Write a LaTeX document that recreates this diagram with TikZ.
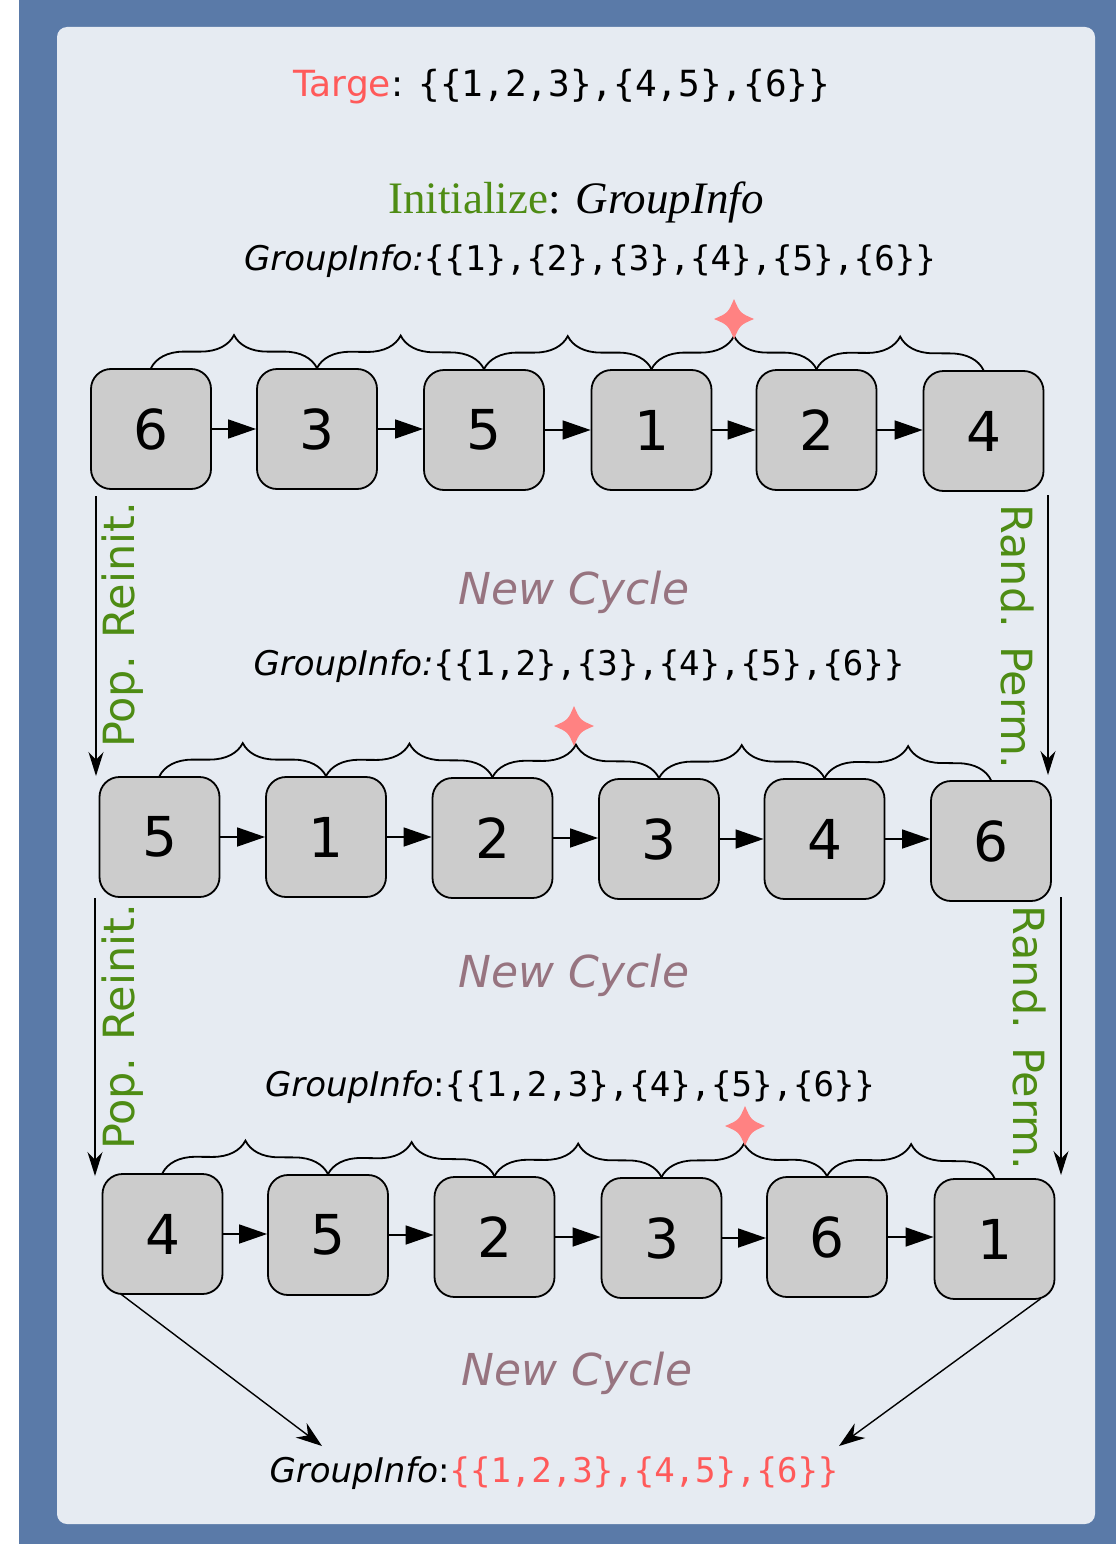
\documentclass[tikz,border=0pt]{standalone}
\usepackage{fontspec}
\setmainfont{DejaVu Sans}
\newfontfamily\monofont{DejaVu Sans Mono}
\newfontfamily\timesfont{Liberation Serif}
\usetikzlibrary{arrows.meta,decorations.pathreplacing}
\definecolor{bordblue}{HTML}{5A7AA8}
\definecolor{panelc}{HTML}{E6EBF2}
\definecolor{tred}{HTML}{FF5A5A}
\definecolor{tgreen}{HTML}{4E8C14}
\definecolor{cyc}{HTML}{977480}
\definecolor{starc}{HTML}{FF8282}
\definecolor{boxg}{HTML}{CCCCCC}
\newcommand{\mystarshape}[1]{\fill[starc, shift={#1}] (0,-20) .. controls (6,-6) .. (20,0) .. controls (6,6) .. (0,20) .. controls (-6,6) .. (-20,0) .. controls (-6,-6) .. (0,-20) -- cycle;}
\begin{document}
\begin{tikzpicture}[x=1pt,y=-1pt,
  numbox/.style={draw=black, line width=1.8pt, fill=boxg, rounded corners=20pt, minimum width=120pt, minimum height=120pt, inner sep=0pt, font=\fontsize{55}{60}\selectfont},
  link/.style={line width=1.6pt, -{Triangle[length=28pt,width=19pt]}},
  grp/.style={decorate, decoration={brace, amplitude=33pt}, line width=1.8pt},
  vflow/.style={line width=1.4pt, -{Stealth[length=24pt,width=15pt]}},
  dflow/.style={line width=1.4pt, -{Stealth[length=26pt,width=18pt]}},
  sidelbl/.style={text=tgreen, font=\fontsize{43}{48}\selectfont, inner sep=0pt},
  cyclbl/.style={text=cyc, font=\fontsize{44}{50}\selectfont\itshape, inner sep=0pt},
  gilbl/.style={text=black, font=\fontsize{34}{40}\selectfont, inner sep=0pt}
]
\useasboundingbox (0,0) rectangle (1116,1544);
\fill[white] (0,0) rectangle (19,1544);
\fill[bordblue] (19,0) rectangle (1116,1544);
\fill[panelc, rounded corners=10pt] (57,27) rectangle (1095,1524);

% texts
\node[inner sep=0pt, font=\fontsize{36}{40}\selectfont] (targe) at (562,87) {\textcolor{tred}{Targe}: {\monofont\{\{1,2,3\},\{4,5\},\{6\}\}}};
\node[inner sep=0pt, font=\timesfont\fontsize{45}{50}\selectfont] (init) at (576,202) {\textcolor{tgreen}{Initialize}: \textit{GroupInfo}};
\node[gilbl] (gi1) at (590,261) {\textit{GroupInfo:}{\monofont\{\{1\},\{2\},\{3\},\{4\},\{5\},\{6\}\}}};
\node[cyclbl] (nc1) at (574,592) {New Cycle};
\node[gilbl] (gi2) at (579,666) {\textit{GroupInfo:}{\monofont\{\{1,2\},\{3\},\{4\},\{5\},\{6\}\}}};
\node[cyclbl] (nc2) at (574,975) {New Cycle};
\node[gilbl] (gi3) at (570,1087) {\textit{GroupInfo}:{\monofont\{\{1,2,3\},\{4\},\{5\},\{6\}\}}};
\node[cyclbl] (nc3) at (577,1373) {New Cycle};
\node[gilbl] (gi4) at (554,1473) {\textit{GroupInfo}:{\monofont\textcolor{tred}{\{\{1,2,3\},\{4,5\},\{6\}\}}}};

% row 1
\node[numbox] (a1) at (151,429) {6};
\node[numbox] (a2) at (317,429) {3};
\node[numbox] (a3) at (484,430) {5};
\node[numbox] (a4) at (651.5,430) {1};
\node[numbox] (a5) at (816.5,430) {2};
\node[numbox] (a6) at (983.5,431) {4};
% row 2
\node[numbox] (b1) at (159.5,837) {5};
\node[numbox] (b2) at (326,837) {1};
\node[numbox] (b3) at (492.5,838) {2};
\node[numbox] (b4) at (659,839) {3};
\node[numbox] (b5) at (824.5,839) {4};
\node[numbox] (b6) at (991,841) {6};
% row 3
\node[numbox] (c1) at (162.5,1234) {4};
\node[numbox] (c2) at (328,1235) {5};
\node[numbox] (c3) at (494.5,1237) {2};
\node[numbox] (c4) at (661.5,1238) {3};
\node[numbox] (c5) at (827,1237) {6};
\node[numbox] (c6) at (994.5,1239) {1};

\foreach \r in {a,b,c}{
  \foreach \i/\j in {1/2,2/3,3/4,4/5,5/6}{
    \draw[link] (\r\i.east) -- (\r\j.west |- \r\i.east);
    \draw[grp] (\r\i.north) -- (\r\j.north -| \r\j.north);
  }
}

\mystarshape{(734,319)}
\mystarshape{(574,726)}
\mystarshape{(745,1126)}

% side arrows
\coordinate (l1s) at (96,496);
\coordinate (l1e) at (96,776);
\coordinate (r1s) at (1048,495);
\coordinate (r1e) at (1048,775);
\coordinate (l2s) at (95,898);
\coordinate (l2e) at (95,1176);
\coordinate (r2s) at (1061,897);
\coordinate (r2e) at (1061,1175);
\draw[vflow] (l1s) -- (l1e);
\draw[vflow] (r1s) -- (r1e);
\draw[vflow] (l2s) -- (l2e);
\draw[vflow] (r2s) -- (r2e);
\node[sidelbl, rotate=90] (pr1) at (123,625) {Pop. Reinit.};
\node[sidelbl, rotate=-90] (rp1) at (1018,637) {Rand. Perm.};
\node[sidelbl, rotate=90] (pr2) at (123,1027) {Pop. Reinit.};
\node[sidelbl, rotate=-90] (rp2) at (1030,1038) {Rand. Perm.};

% bottom arrows
\coordinate (dl) at (322,1446);
\coordinate (dr) at (839,1446);
\draw[dflow] (c1.south west) ++(19,-1) -- (dl);
\draw[dflow] (c6.south east) ++(-15,-1) -- (dr);
\end{tikzpicture}
\end{document}
